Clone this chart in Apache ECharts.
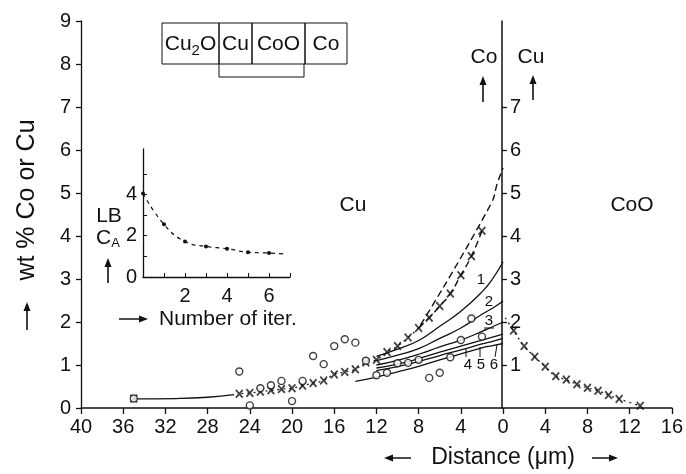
<!DOCTYPE html>
<html><head><meta charset="utf-8">
<script src="https://cdn.jsdelivr.net/npm/echarts@6/dist/echarts.min.js"></script>
<style>html,body{margin:0;padding:0;background:#fff}#c{width:686px;height:474px}</style>
</head><body><div id="c"></div>
<script>
// ---------- data ----------
// distances into the Cu layer (µm), plotted to the left of the interface
const cuDist   = [2,3,4,5,6,7,8,9,10,11,12,13,14,15,16,17,18,19,20,21,22,23,24,25,35];
const coInCu   = [4.12,3.53,3.09,2.66,2.37,2.10,1.86,1.64,1.44,1.30,1.12,1.06,0.90,0.84,0.78,0.64,0.58,0.52,0.46,0.44,0.41,0.38,0.35,0.33,0.22];
const cuCircle = [1.66,2.08,1.58,1.18,0.82,0.70,1.12,1.05,1.04,0.82,0.76,1.10,1.52,1.60,1.44,1.02,1.21,0.63,0.16,0.63,0.53,0.46,0.06,0.85,0.22];
// dashed extension of the Co profile to the interface
const coExtDist = [1.2,0.5,0];
const coExtVal  = [4.72,5.26,5.58];
// solid tail toward the far point
const tailDist = [35,31,28,25.5];
const tailVal  = [0.21,0.22,0.25,0.31];
// calculated profiles (iterations 1..6)
const iterDist  = [12,10,8,6,4,2,1,0];
const iter1 = [1.20,1.37,1.57,1.90,2.25,2.70,3.00,3.40];
const iter2 = [1.10,1.23,1.38,1.62,1.86,2.18,2.32,2.49];
const iter3 = [1.00,1.11,1.25,1.42,1.58,1.78,1.89,2.00];
const iter4 = [0.93,1.02,1.15,1.30,1.44,1.58,1.65,1.72];
const iter5 = [0.87,0.96,1.08,1.22,1.35,1.49,1.55,1.62];
const iter6Dist = [14,12,10,8,6,4,2,1,0];
const iter6 = [0.62,0.72,0.84,0.97,1.12,1.26,1.40,1.45,1.50];
// Cu in CoO (right of the interface)
const cooDist = [1,2,3,4,5,6,7,8,9,10,11,13];
const cuInCoO = [1.80,1.44,1.19,0.96,0.74,0.66,0.55,0.47,0.40,0.30,0.21,0.05];
const cooStart = [0.2,2.1];
// inset: LB C_A vs number of iterations
const iterN   = [0,1,2,3,4,5,6];
const lbCA    = [4.05,2.55,1.72,1.48,1.37,1.20,1.16];
const lbCurveEnd = [6.7,1.12];
// tick labels
const mainYTicks  = [0,1,2,3,4,5,6,7,8,9];
const innerYTicks = [1,2,3,4,5,6,7];
const insetXLabels = [2,4,6];
const insetXTicks  = [1,2,3,4,5,6,7];
const insetYLabels = [0,2,4];
const insetYTicks  = [1,2,3,4,5];

// ---------- chart ----------
const K = '#111';
const FONT = 'Liberation Sans, Arial, sans-serif';
const chart = echarts.init(document.getElementById('c'), null, {renderer:'canvas'});
const crossPath = 'path://M0,1.5L1.5,0L5,3.5L8.5,0L10,1.5L6.5,5L10,8.5L8.5,10L5,6.5L1.5,10L0,8.5L3.5,5Z';
const pair = (ds, vs, sign) => ds.map((d,i)=>[sign*d, vs[i]]);
const crossPts = pair(cuDist, coInCu, -1);
const mainX = crossPts.filter(p => p[0] >= -25);
const dottedPart = mainX.filter(p => p[0] <= -8);
const dashedPart = mainX.filter(p => p[0] >= -8).concat(pair(coExtDist, coExtVal, -1));
const solid = (data, extra) => Object.assign({type:'line', xAxisIndex:0, yAxisIndex:0, data, smooth:true, showSymbol:false, symbol:'none', lineStyle:{color:K, width:1.3}, silent:true, z:2}, extra||{});

function upArrow(x, yb, yt){
  return [
    {type:'line', shape:{x1:x,y1:yb,x2:x,y2:yt+6}, style:{stroke:K, lineWidth:1.6}},
    {type:'polygon', shape:{points:[[x-3.5,yt+9],[x+3.5,yt+9],[x,yt]]}, style:{fill:K}}
  ];
}
function hArrow(x1, x2, y){ // head at x2
  const dir = x2 > x1 ? 1 : -1;
  return [
    {type:'line', shape:{x1:x1,y1:y,x2:x2-dir*6,y2:y}, style:{stroke:K, lineWidth:1.5}},
    {type:'polygon', shape:{points:[[x2-dir*9,y-3.5],[x2-dir*9,y+3.5],[x2,y]]}, style:{fill:K}}
  ];
}
function txt(x, y, s, size, align){
  return {type:'text', x, y, style:{text:s, font:`${size||21}px ${FONT}`, fill:K, textAlign:align||'center', textVerticalAlign:'middle'}};
}
const boxes = [[162,219,'{a|Cu}{s|2}{a|O}'],[219,252,'Cu'],[252,305,'CoO'],[305,347,'Co']];
const graphics = [];
boxes.forEach(b=>{
  graphics.push({type:'rect', shape:{x:b[0], y:23, width:b[1]-b[0], height:41}, style:{fill:'none', stroke:K, lineWidth:1}});
  graphics.push({type:'text', x:(b[0]+b[1])/2, y:44, style:{text:b[2], font:`21px ${FONT}`, fill:K, align:'center', verticalAlign:'middle',
    rich:{a:{font:`21px ${FONT}`, fill:K}, s:{font:`15px ${FONT}`, fill:K, padding:[14,0,0,0]}}}});
});
graphics.push({type:'polyline', shape:{points:[[219,64],[219,77],[304,77],[304,64]]}, style:{stroke:K, fill:'none', lineWidth:1}});
graphics.push(txt(353,205,'Cu'), txt(632,205,'CoO'), txt(484,57,'Co'), txt(531,57,'Cu'));
graphics.push(...upArrow(483,102,76), ...upArrow(533,100,75));
graphics.push(txt(109,216,'LB'));
graphics.push({type:'text', x:108, y:238, style:{text:'{a|C}{s|A}', fill:K, align:'center', verticalAlign:'middle',
  rich:{a:{font:`21px ${FONT}`, fill:K}, s:{font:`13px ${FONT}`, fill:K, padding:[10,0,0,0]}}}});
graphics.push(...upArrow(108,283,258));
graphics.push(...hArrow(119,148,319), txt(159,319,'Number of iter.',21,'left'));
graphics.push(txt(503,458,'Distance (\u03bcm)',23), ...hArrow(411,384,458), ...hArrow(592,618,458));
graphics.push({type:'text', x:27, y:200, rotation:Math.PI/2, style:{text:'wt % Co or Cu', font:`25px ${FONT}`, fill:K, textAlign:'center', textVerticalAlign:'middle'}});
graphics.push(...upArrow(27,330,302));
[['1',481,280],['2',489,302],['3',489,321],['4',468,365],['5',481,365],['6',494,365]].forEach(l=>graphics.push(txt(l[1],l[2],l[0],15)));
graphics.push({type:'line', shape:{x1:484,y1:328,x2:494,y2:328}, style:{stroke:K,lineWidth:1}});
[[466,357,466,349],[480,357,480,347],[495,357,497,345]].forEach(s=>graphics.push({type:'line', shape:{x1:s[0],y1:s[1],x2:s[2],y2:s[3]}, style:{stroke:K,lineWidth:1}}));

const axisLbl = {color:K, fontFamily:FONT, fontSize:20};
const option = {
  backgroundColor:'#fff',
  animation:false,
  grid:[
    {left:81, right:11, top:21, bottom:66, containLabel:false},
    {left:143, width:147, top:149, height:128, containLabel:false}
  ],
  xAxis:[
    {gridIndex:0, type:'value', min:-40, max:16, interval:4,
     axisLine:{show:true, onZero:false, lineStyle:{color:K, width:1.5}},
     axisTick:{show:true, inside:false, length:6, lineStyle:{color:K, width:1.3}},
     axisLabel:Object.assign({margin:9, formatter:v=>String(Math.abs(v))}, axisLbl),
     splitLine:{show:false}},
    {gridIndex:1, type:'value', min:0, max:7, interval:1,
     axisLine:{show:true, onZero:false, lineStyle:{color:K, width:1.3}},
     axisTick:{show:true, inside:true, length:4, customValues:insetXTicks, lineStyle:{color:K}},
     axisLabel:Object.assign({margin:9, customValues:insetXLabels}, axisLbl, {fontSize:20}),
     splitLine:{show:false}}
  ],
  yAxis:[
    {gridIndex:0, type:'value', min:0, max:9, interval:1,
     axisLine:{show:true, onZero:false, lineStyle:{color:K, width:1.3}},
     axisTick:{show:true, length:5, customValues:mainYTicks, lineStyle:{color:K, width:1.3}},
     axisLabel:Object.assign({margin:10, customValues:mainYTicks}, axisLbl),
     splitLine:{show:false}},
    {gridIndex:0, type:'value', position:'right', offset:-170, min:0, max:9, interval:1,
     axisLine:{show:true, onZero:false, lineStyle:{color:K, width:1.5}},
     axisTick:{show:true, inside:false, length:5, customValues:innerYTicks, lineStyle:{color:K, width:1.3}},
     axisLabel:Object.assign({margin:8, customValues:innerYTicks}, axisLbl),
     splitLine:{show:false}},
    {gridIndex:1, type:'value', min:0, max:6.2, interval:1,
     axisLine:{show:true, onZero:false, lineStyle:{color:K, width:1.3}},
     axisTick:{show:true, inside:true, length:4, customValues:insetYTicks, lineStyle:{color:K}},
     axisLabel:Object.assign({margin:6, customValues:insetYLabels}, axisLbl, {fontSize:20}),
     splitLine:{show:false}}
  ],
  series:[
    {type:'line', data:dottedPart, smooth:true, symbol:'none', lineStyle:{color:K, width:1.2, type:[2,4]}, z:1, silent:true},
    {type:'line', data:dashedPart, smooth:true, symbol:'none', lineStyle:{color:K, width:1.4, type:[7,4]}, z:1, silent:true},
    solid(pair(tailDist, tailVal, -1)),
    solid(pair(iterDist, iter1, -1)),
    solid(pair(iterDist, iter2, -1)),
    solid(pair(iterDist, iter3, -1)),
    solid(pair(iterDist, iter4, -1)),
    solid(pair(iterDist, iter5, -1)),
    solid(pair(iter6Dist, iter6, -1)),
    {type:'line', data:[cooStart].concat(pair(cooDist, cuInCoO, 1)), smooth:true, symbol:'none', lineStyle:{color:K, width:1.2, type:[2,4]}, z:1, silent:true},
    {type:'scatter', data:crossPts, symbol:crossPath, symbolSize:[8,9], itemStyle:{color:K}, z:4, silent:true},
    {type:'scatter', data:pair(cooDist, cuInCoO, 1), symbol:crossPath, symbolSize:[8,9], itemStyle:{color:K}, z:4, silent:true},
    {type:'scatter', data:pair(cuDist, cuCircle, -1), symbol:'circle', symbolSize:7, itemStyle:{color:'#fff', borderColor:K, borderWidth:1.4}, z:5, silent:true},
    {type:'line', xAxisIndex:1, yAxisIndex:2, data:iterN.map((n,i)=>[n,lbCA[i]]).concat([lbCurveEnd]), smooth:true,
     symbol:'circle', symbolSize:4, itemStyle:{color:K}, lineStyle:{color:K, width:1.2, type:[4,4]}, silent:true}
  ],
  graphic:graphics
};
option.series[13].data[option.series[13].data.length-1] = {value:lbCurveEnd, symbol:'none'};
chart.setOption(option);
</script></body></html>
